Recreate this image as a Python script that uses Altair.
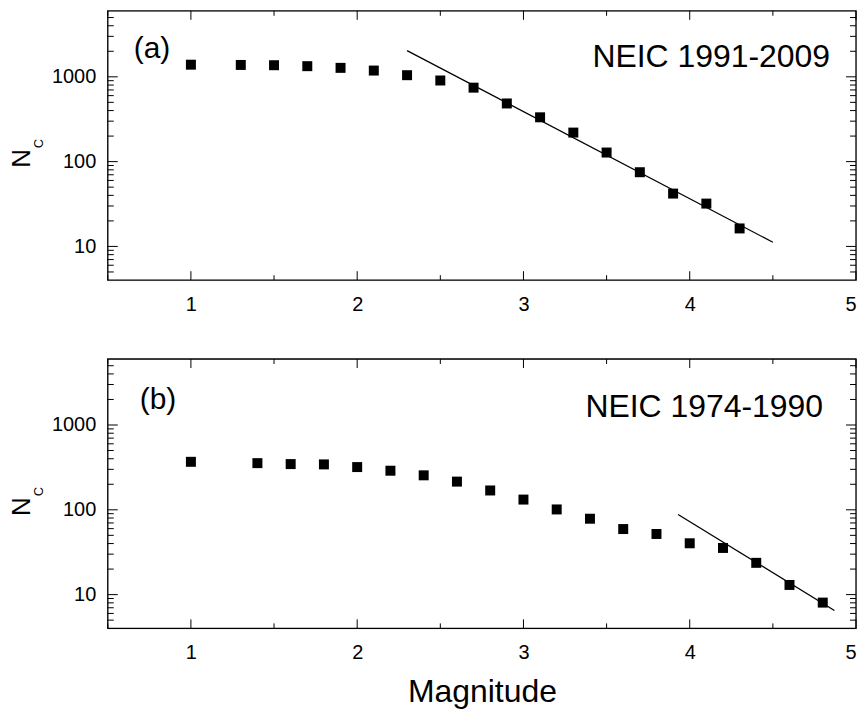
import altair as alt
import pandas as pd

# ---- data ----
mag_a = [1.0, 1.3, 1.5, 1.7, 1.9, 2.1, 2.3, 2.5, 2.7, 2.9, 3.1, 3.3, 3.5, 3.7, 3.9, 4.1, 4.3]
nc_a = [1390, 1380, 1370, 1335, 1275, 1185, 1045, 905, 745, 485, 333, 220, 128, 75, 42, 32, 16.3]
fit_a_mag = [2.3, 4.5]
fit_a_nc = [2040, 11.2]

mag_b = [1.0, 1.4, 1.6, 1.8, 2.0, 2.2, 2.4, 2.6, 2.8, 3.0, 3.2, 3.4, 3.6, 3.8, 4.0, 4.2, 4.4, 4.6, 4.8]
nc_b = [368, 355, 346, 343, 319, 289, 255, 215, 169, 132, 101, 78.5, 59.3, 51.9, 40.3, 35.5, 23.7, 13.0, 8.05]
fit_b_mag = [3.93, 4.87]
fit_b_nc = [88, 6.5]

x_major = [1, 2, 3, 4, 5]
x_minor = [0.5, 1.5, 2.5, 3.5, 4.5]
y_major = [10, 100, 1000]
y_minor = [5, 6, 7, 8, 9, 20, 30, 40, 50, 60, 70, 80, 90,
           200, 300, 400, 500, 600, 700, 800, 900, 2000, 3000, 4000, 5000]

W, H = 750, 270
FONT = "Arial"
X_DOMAIN = [0.5, 5]
Y_DOMAIN = [4, 6000]


def xs():
    return alt.Scale(domain=X_DOMAIN, nice=False, zero=False)


def ys():
    return alt.Scale(type="log", domain=Y_DOMAIN, nice=False)


def label(text, size, x, y, align="left", baseline="alphabetic", angle=0):
    one = pd.DataFrame({"t": [text]})
    return alt.Chart(one).mark_text(font=FONT, fontSize=size, color="black",
                                    fontWeight="normal", align=align,
                                    baseline=baseline, angle=angle).encode(
        text="t:N", x=alt.value(x), y=alt.value(y))


def panel(mags, ncs, fmag, fnc, tag, name, tag_pos, name_pos, x_title):
    pts = pd.DataFrame({"m": mags, "n": ncs})
    fit = pd.DataFrame({"m": fmag, "n": fnc})
    xaxis = alt.Axis(values=x_major, ticks=False, domain=False, grid=False,
                     labelFont=FONT, labelFontSize=20, labelColor="black",
                     labelFontWeight="normal",
                     labelPadding=14, labelFlush=True, labelOverlap=False,
                     title=x_title if x_title else "",
                     titleFont=FONT, titleFontSize=32, titleFontWeight="normal",
                     titleColor="black", titlePadding=14)
    yaxis = alt.Axis(values=y_major, format="d", ticks=False, domain=False, grid=False,
                     labelFont=FONT, labelFontSize=20, labelColor="black",
                     labelFontWeight="normal",
                     labelPadding=12, title="")

    points = alt.Chart(pts).mark_square(size=100, color="black", opacity=1).encode(
        x=alt.X("m:Q", scale=xs(), axis=xaxis),
        y=alt.Y("n:Q", scale=ys(), axis=yaxis),
    )
    line = alt.Chart(fit).mark_line(color="black", strokeWidth=1.3).encode(
        x=alt.X("m:Q", scale=xs(), axis=xaxis),
        y=alt.Y("n:Q", scale=ys(), axis=yaxis),
    )

    dxM = pd.DataFrame({"m": x_major})
    dxm = pd.DataFrame({"m": x_minor})
    dyM = pd.DataFrame({"n": y_major})
    dym = pd.DataFrame({"n": y_minor})
    tick_layers = []
    for df, ln in [(dxM, 9), (dxm, 5)]:
        tick_layers.append(alt.Chart(df).mark_rule(color="black", strokeWidth=1).encode(
            x=alt.X("m:Q", scale=xs(), axis=xaxis), y=alt.value(0), y2=alt.value(ln)))
        tick_layers.append(alt.Chart(df).mark_rule(color="black", strokeWidth=1).encode(
            x=alt.X("m:Q", scale=xs(), axis=xaxis), y=alt.value(H), y2=alt.value(H - ln)))
    for df, ln in [(dyM, 10), (dym, 6)]:
        tick_layers.append(alt.Chart(df).mark_rule(color="black", strokeWidth=1).encode(
            y=alt.Y("n:Q", scale=ys(), axis=yaxis), x=alt.value(0), x2=alt.value(ln)))
        tick_layers.append(alt.Chart(df).mark_rule(color="black", strokeWidth=1).encode(
            y=alt.Y("n:Q", scale=ys(), axis=yaxis), x=alt.value(W), x2=alt.value(W - ln)))

    frame = alt.Chart(pd.DataFrame({"f": [0]})).mark_rect(
        fill=None, filled=False, stroke="black", strokeWidth=1.3).encode(
        x=alt.value(0), x2=alt.value(W), y=alt.value(0), y2=alt.value(H))

    texts = [
        label(tag, 30, tag_pos[0], tag_pos[1]),
        label(name, 32, name_pos[0], name_pos[1], align="right"),
        label("N", 26, -86, 148, align="center", baseline="middle", angle=270),
        label("C", 13, -69, 133, align="center", baseline="middle", angle=270),
    ]

    return alt.layer(points, line, *tick_layers, frame, *texts).properties(
        width=W, height=H)


top = panel(mag_a, nc_a, fit_a_mag, fit_a_nc, "(a)", "NEIC 1991-2009",
            (26, 47), (724, 56), None)
bottom = panel(mag_b, nc_b, fit_b_mag, fit_b_nc, "(b)", "NEIC 1974-1990",
               (32, 50), (717, 58), "Magnitude")

chart = alt.vconcat(top, bottom, spacing=79, bounds="flush").properties(
    padding={"left": 0, "top": 0, "right": 0, "bottom": 0}
).configure_view(stroke=None).configure(background="white")

chart.save("out.html", embed_options={"renderer": "svg", "actions": False})
